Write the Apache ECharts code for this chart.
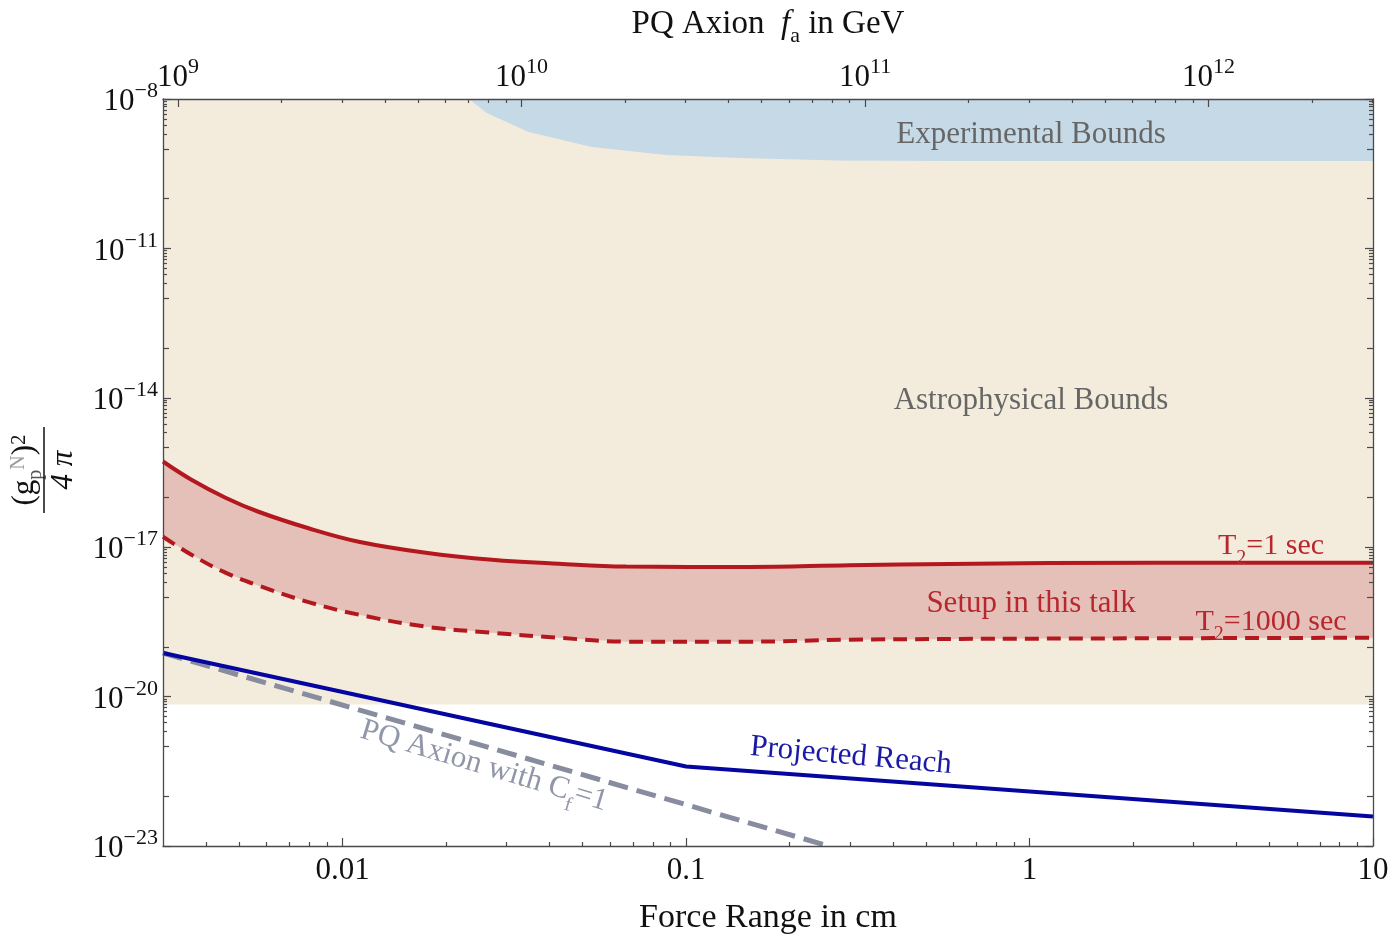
<!DOCTYPE html>
<html><head><meta charset="utf-8">
<script src="https://cdn.jsdelivr.net/npm/echarts@6/dist/echarts.min.js"></script>
<style>html,body{margin:0;padding:0;background:#fff}#chart{width:1393px;height:939px}</style>
</head><body><div id="chart"></div>
<script>
// ---------- data ----------
const forceRangeMin = 0.003, forceRangeMax = 10;          // cm (bottom axis)
const faMin = 9.04e8, faMax = 3.01e12;                      // GeV (top axis)
const couplingMin = 1e-23, couplingMax = 1e-8;              // (g_p^N)^2/4pi

const forceTickValues = [0.01, 0.1, 1, 10];
const forceTickLabels = ['0.01', '0.1', '1', '10'];
const faTickValues = [1e9, 1e10, 1e11, 1e12];
const faTickExponents = ['9', '10', '11', '12'];
const couplingTickValues = [1e-8, 1e-11, 1e-14, 1e-17, 1e-20, 1e-23];
const couplingTickExponents = ['−8', '−11', '−14', '−17', '−20', '−23'];

const astroBoundX = [0.003, 10];
const astroBoundY = [6.9e-21, 6.9e-21];

const expBoundX = [0.0233, 0.0263, 0.0348, 0.0532, 0.0875, 0.143, 0.279, 0.6, 10];
const expBoundY = [1e-8, 5.24e-9, 2.18e-9, 1.09e-9, 7.5e-10, 6.55e-10, 5.8e-10, 5.7e-10, 5.7e-10];

const t2OneSecX = [0.003, 0.00363, 0.00456, 0.00569, 0.00796, 0.01114, 0.01746, 0.0272, 0.0426, 0.0669, 0.153, 0.299, 0.585, 1.14, 10];
const t2OneSecY = [5.26e-16, 2.26e-16, 9.84e-17, 5.15e-17, 2.4e-17, 1.29e-17, 7.75e-18, 5.61e-18, 4.66e-18, 4.1e-18, 4.0e-18, 4.35e-18, 4.6e-18, 4.8e-18, 4.88e-18];

const t2KiloSecX = [0.003, 0.00363, 0.00456, 0.00569, 0.00796, 0.01114, 0.01746, 0.0272, 0.0426, 0.0669, 0.153, 0.299, 1.14, 10];
const t2KiloSecY = [1.62e-17, 7.06e-18, 3.08e-18, 1.69e-18, 7.9e-19, 4.42e-19, 2.54e-19, 1.92e-19, 1.52e-19, 1.27e-19, 1.27e-19, 1.39e-19, 1.46e-19, 1.52e-19];

const reachX = [0.003, 0.1, 10];
const reachY = [7.5e-20, 3.94e-22, 3.9e-23];

const pqAxionX = [0.003, 0.26];
const pqAxionY = [7.5e-20, 1e-23];

// ---------- helpers ----------
const zip = (xs, ys) => xs.map((x, i) => [x, ys[i]]);
function minorTicks(lo, hi, decades) {
  const out = [];
  decades.forEach(d => { for (let k = 2; k <= 9; k++) { const v = k * Math.pow(10, d); if (v > lo && v < hi) out.push(v); } });
  return out;
}
function decadeTicks(d0, d1, exclude) {
  const out = [];
  for (let d = d0; d <= d1; d++) { const v = Math.pow(10, d); if (!exclude.some(e => Math.abs(Math.log10(e) - d) < 1e-6)) out.push(v); }
  return out;
}
function lookup(vals, labels, v) {
  for (let i = 0; i < vals.length; i++) if (Math.abs(Math.log10(vals[i]) - Math.log10(v)) < 1e-6) return labels[i];
  return '';
}

const SERIF = "'Liberation Serif', 'DejaVu Serif', serif";
const FRAME = '#4a4a4a';
const labelRich = {
  b: { fontSize: 31, fontFamily: SERIF, color: '#111', padding: [6, 0, 0, 0] },
  s: { fontSize: 22, fontFamily: SERIF, color: '#111', verticalAlign: 'top' }
};

const xMin = forceRangeMin * 0.9999, xMax = forceRangeMax * 1.0001;
const yMin = couplingMin * 0.9999, yMax = couplingMax * 1.0001;

const forceMinor = minorTicks(forceRangeMin, forceRangeMax, [-3, -2, -1, 0]);
const faMinor = minorTicks(faMin, faMax, [8, 9, 10, 11, 12]);
const couplingDecades = decadeTicks(-23, -8, couplingTickValues);
const couplingMinor = minorTicks(couplingMin, couplingMax, [-9, -12, -15, -18, -21]);

function xAx(opts) {
  return Object.assign({
    type: 'log', logBase: 10, gridIndex: 0, z: 10,
    axisLine: { show: false, onZero: false },
    splitLine: { show: false }, minorTick: { show: false }, minorSplitLine: { show: false },
    axisLabel: { show: false }, silent: true
  }, opts);
}

const chart = echarts.init(document.getElementById('chart'), null, { renderer: 'canvas' });
chart.setOption({
  animation: false,
  backgroundColor: '#ffffff',
  grid: { left: 163, right: 20, top: 99, bottom: 93, containLabel: false, outerBoundsMode: 'none' },
  xAxis: [
    xAx({ position: 'bottom', min: xMin, max: xMax,
      axisLine: { show: true, onZero: false, lineStyle: { color: FRAME, width: 1.3 } },
      axisTick: { show: true, inside: true, length: 8, customValues: forceTickValues, lineStyle: { color: FRAME, width: 1.2 } },
      axisLabel: { show: true, customValues: forceTickValues, margin: 9, fontSize: 31, fontFamily: SERIF, color: '#111',
        formatter: v => lookup(forceTickValues, forceTickLabels, v) },
      name: 'Force Range in cm', nameLocation: 'middle', nameGap: 55,
      nameTextStyle: { fontSize: 34, fontFamily: SERIF, color: '#111' } }),
    xAx({ position: 'bottom', min: xMin, max: xMax,
      axisTick: { show: true, inside: true, length: 4, customValues: forceMinor, lineStyle: { color: FRAME, width: 1.2 } } }),
    xAx({ position: 'top', min: faMin, max: faMax,
      axisLine: { show: true, onZero: false, lineStyle: { color: FRAME, width: 1.3 } },
      axisTick: { show: true, inside: true, length: 8, customValues: faTickValues, lineStyle: { color: FRAME, width: 1.2 } },
      axisLabel: { show: true, customValues: faTickValues, margin: 6, rich: labelRich,
        formatter: v => '{b|10}{s|' + lookup(faTickValues, faTickExponents, v) + '}' },
      name: 'PQ Axion  {f|f}{a|a} in GeV', nameLocation: 'middle', nameGap: 58,
      nameTextStyle: { fontSize: 33, fontFamily: SERIF, color: '#111',
        rich: { f: { fontSize: 33, fontFamily: SERIF, fontStyle: 'italic', color: '#111' },
                a: { fontSize: 22, fontFamily: SERIF, color: '#111', verticalAlign: 'bottom', padding: [0, 0, -6, 0] } } } }),
    xAx({ position: 'top', min: faMin, max: faMax,
      axisTick: { show: true, inside: true, length: 4, customValues: faMinor, lineStyle: { color: FRAME, width: 1.2 } } })
  ],
  yAxis: [
    xAx({ position: 'left', min: yMin, max: yMax,
      axisLine: { show: true, onZero: false, lineStyle: { color: FRAME, width: 1.3 } },
      axisTick: { show: true, inside: true, length: 8, customValues: couplingTickValues, lineStyle: { color: FRAME, width: 1.2 } },
      axisLabel: { show: true, customValues: couplingTickValues, margin: 5, rich: labelRich,
        formatter: v => '{b|10}{s|' + lookup(couplingTickValues, couplingTickExponents, v) + '}' } }),
    xAx({ position: 'left', min: yMin, max: yMax,
      axisTick: { show: true, inside: true, length: 6, customValues: couplingDecades, lineStyle: { color: FRAME, width: 1.2 } } }),
    xAx({ position: 'left', min: yMin, max: yMax,
      axisTick: { show: true, inside: true, length: 4, customValues: couplingMinor, lineStyle: { color: FRAME, width: 1.2 } } }),
    xAx({ position: 'right', min: yMin, max: yMax,
      axisLine: { show: true, onZero: false, lineStyle: { color: FRAME, width: 1.3 } },
      axisTick: { show: true, inside: true, length: 8, customValues: couplingTickValues, lineStyle: { color: FRAME, width: 1.2 } } }),
    xAx({ position: 'right', min: yMin, max: yMax,
      axisTick: { show: true, inside: true, length: 6, customValues: couplingDecades, lineStyle: { color: FRAME, width: 1.2 } } }),
    xAx({ position: 'right', min: yMin, max: yMax,
      axisTick: { show: true, inside: true, length: 4, customValues: couplingMinor, lineStyle: { color: FRAME, width: 1.2 } } })
  ],
  series: [
    { name: 'Astrophysical Bounds', type: 'line', xAxisIndex: 0, yAxisIndex: 0, z: 1, silent: true,
      data: zip(astroBoundX, astroBoundY), symbol: 'none', lineStyle: { width: 0 },
      areaStyle: { origin: 'end', color: '#f3ebdc', opacity: 1 } },
    { name: 'Experimental Bounds', type: 'line', xAxisIndex: 0, yAxisIndex: 0, z: 2, silent: true,
      data: zip(expBoundX, expBoundY), symbol: 'none', lineStyle: { width: 0 },
      areaStyle: { origin: 'end', color: '#c5d9e7', opacity: 1 } },
    { name: 'Setup band', type: 'custom', xAxisIndex: 0, yAxisIndex: 0, z: 3, silent: true,
      data: [0],
      renderItem: (params, api) => {
        const pts = [];
        t2OneSecX.forEach((x, i) => pts.push(api.coord([x, t2OneSecY[i]])));
        for (let i = t2KiloSecX.length - 1; i >= 0; i--) pts.push(api.coord([t2KiloSecX[i], t2KiloSecY[i]]));
        return { type: 'polygon', shape: { points: pts }, style: { fill: '#e5c0b8' } };
      } },
    { name: 'T2=1 sec', type: 'line', xAxisIndex: 0, yAxisIndex: 0, z: 4, silent: true,
      data: zip(t2OneSecX, t2OneSecY), symbol: 'none', smooth: 0.4,
      lineStyle: { color: '#b4181f', width: 4 } },
    { name: 'T2=1000 sec', type: 'line', xAxisIndex: 0, yAxisIndex: 0, z: 4, silent: true,
      data: zip(t2KiloSecX, t2KiloSecY), symbol: 'none', smooth: 0.4,
      lineStyle: { color: '#b4181f', width: 4, type: [14, 8] } },
    { name: 'PQ Axion', type: 'line', xAxisIndex: 0, yAxisIndex: 0, z: 4, silent: true,
      data: zip(pqAxionX, pqAxionY), symbol: 'none',
      lineStyle: { color: '#878d9e', width: 5, type: [20, 9] } },
    { name: 'Projected Reach', type: 'line', xAxisIndex: 0, yAxisIndex: 0, z: 5, silent: true,
      data: zip(reachX, reachY), symbol: 'none',
      lineStyle: { color: '#0505a0', width: 4 } }
  ],
  graphic: [
    { type: 'text', x: 1031, y: 135, z: 20, silent: true,
      style: { text: 'Experimental Bounds', fontSize: 31, fontFamily: SERIF, fill: '#666', align: 'center', verticalAlign: 'middle' } },
    { type: 'text', x: 1031, y: 401, z: 20, silent: true,
      style: { text: 'Astrophysical Bounds', fontSize: 31, fontFamily: SERIF, fill: '#666', align: 'center', verticalAlign: 'middle' } },
    { type: 'text', x: 1271, y: 546, z: 20, silent: true,
      style: { text: 'T{sub|2}=1 sec', fontSize: 30, fontFamily: SERIF, fill: '#b8262e', align: 'center', verticalAlign: 'middle',
        rich: { sub: { fontSize: 20, fontFamily: SERIF, fill: '#b8262e', verticalAlign: 'bottom', padding: [0, 0, -8, 0] } } } },
    { type: 'text', x: 1031, y: 604, z: 20, silent: true,
      style: { text: 'Setup in this talk', fontSize: 31, fontFamily: SERIF, fill: '#b8262e', align: 'center', verticalAlign: 'middle' } },
    { type: 'text', x: 1271, y: 622, z: 20, silent: true,
      style: { text: 'T{sub|2}=1000 sec', fontSize: 30, fontFamily: SERIF, fill: '#b8262e', align: 'center', verticalAlign: 'middle',
        rich: { sub: { fontSize: 20, fontFamily: SERIF, fill: '#b8262e', verticalAlign: 'bottom', padding: [0, 0, -8, 0] } } } },
    { type: 'text', x: 851, y: 756, rotation: -0.09, z: 20, silent: true,
      style: { text: 'Projected Reach', fontSize: 31, fontFamily: SERIF, fill: '#1a1aa6', align: 'center', verticalAlign: 'middle' } },
    { type: 'text', x: 484, y: 766, rotation: -0.29, z: 20, silent: true,
      style: { text: 'PQ Axion with C{sub|f}=1', fontSize: 31, fontFamily: SERIF, fill: '#9197a8', align: 'center', verticalAlign: 'middle',
        rich: { sub: { fontSize: 20, fontFamily: SERIF, fill: '#9197a8', verticalAlign: 'bottom', padding: [0, 0, -8, 0] } } } },
    { type: 'group', x: 44, y: 470, rotation: Math.PI / 2, silent: true, z: 20,
      children: [
        { type: 'text', x: 0, y: -4,
          style: { text: '({g|g}{sub|p}{sup|N}){two|2}', fontSize: 31, fontFamily: SERIF, fill: '#111', align: 'center', verticalAlign: 'bottom',
            rich: { g: { fontSize: 31, fontFamily: SERIF, fill: '#111' },
                    sub: { fontSize: 20, fontFamily: SERIF, fill: '#555', verticalAlign: 'bottom', padding: [0, 0, -6, 0] },
                    sup: { fontSize: 20, fontFamily: SERIF, fill: '#999', verticalAlign: 'top' },
                    two: { fontSize: 21, fontFamily: SERIF, fill: '#111', verticalAlign: 'top' } } } },
        { type: 'line', shape: { x1: -43, y1: 0, x2: 43, y2: 0 }, style: { stroke: '#111', lineWidth: 1.5 } },
        { type: 'text', x: 0, y: 4,
          style: { text: '4 π', fontSize: 31, fontFamily: SERIF, fontStyle: 'italic', fill: '#111', align: 'center', verticalAlign: 'top' } }
      ] }
  ]
});
</script></body></html>
